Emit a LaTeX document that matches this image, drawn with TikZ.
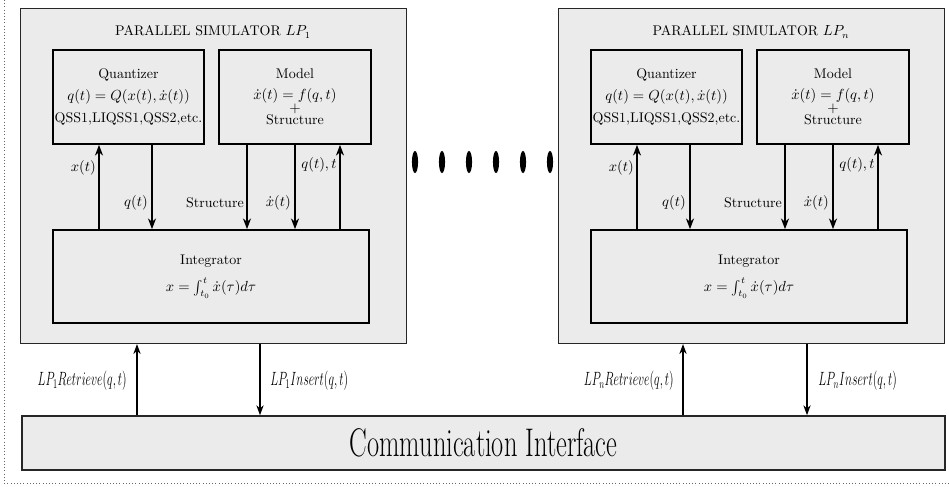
\documentclass[tikz,border=0pt]{standalone}
\usepackage{amsmath}
\usepackage{amssymb}
\usetikzlibrary{arrows.meta}

\tikzset{
  simbox/.style={draw=black!85, fill=black!8, line width=0.8pt, inner sep=0pt},
  blk/.style={draw, line width=1.3pt, fill=black!8, inner sep=0pt, align=center},
  flow/.style={-{Stealth[length=8pt,width=6pt,inset=2.5pt]}, line width=1.2pt},
  io/.style={-{Stealth[length=7.5pt,width=5.5pt,inset=2.5pt]}, line width=0.9pt},
  lbl/.style={inner sep=0pt}
}
\newcommand{\narrowtxt}[1]{\scalebox{0.66}[1]{#1}}
\newcommand{\narrowlbl}[1]{\scalebox{0.62}[1]{#1}}

\begin{document}
\begin{tikzpicture}[x=0.75pt,y=-0.75pt,font=\fontsize{10.5}{12.6}\selectfont]

\useasboundingbox (0,0) rectangle (949,486);
\draw[dotted, black!60] (4,0) -- (4,483) -- (949,483);

%% first simulator
\node (lp1) [simbox, anchor=north west, minimum width=289.5pt, minimum height=251.25pt] at (20,8) {};
\node (t1) at (213,32) {PARALLEL SIMULATOR $LP_1$};

\node (q1) [blk, minimum width=113.25pt, minimum height=70.5pt] at (128.5,97)
  {Quantizer\\[3.9pt] $q(t)=Q(x(t),\dot{x}(t))$\\[3.9pt] QSS1,LIQSS1,QSS2,etc.};
\node (m1) [blk, minimum width=114pt, minimum height=70.5pt] at (295,97)
  {Model\\[3.1pt] $\dot{x}(t)=f(q,t)$\\[-2.9pt] $+$\\[-3.6pt] Structure};
\node (int1) [blk, minimum width=237pt, minimum height=69.75pt] at (211,276.5)
  {Integrator\\[8pt] $x=\int_{t_0}^{t}\dot{x}(\tau)d\tau$};

\coordinate (xa1) at (99,0);
\coordinate (xb1) at (152,0);
\coordinate (xc1) at (247,0);
\coordinate (xd1) at (295,0);
\coordinate (xe1) at (340,0);

\draw[flow] (int1.north -| xa1) -- (q1.south -| xa1);
\draw[flow] (q1.south -| xb1) -- (int1.north -| xb1);
\draw[flow] (m1.south -| xc1) -- (int1.north -| xc1);
\draw[flow] (m1.south -| xd1) -- (int1.north -| xd1);
\draw[flow] (int1.north -| xe1) -- (m1.south -| xe1);

\node (lx1) [lbl, anchor=east] at (96,168) {$x(t)$};
\node (lqt1) [lbl, anchor=east] at (337,165) {$q(t),t$};
\node (lq1) [lbl, anchor=east] at (148,203) {$q(t)$};
\node (ls1) [lbl, anchor=east] at (244,203) {Structure};
\node (ld1) [lbl, anchor=east] at (291,203) {$\dot{x}(t)$};

%% the dots
\foreach \x in {415,442,469,496,523,550}
  \fill (\x,162) ellipse (2.3pt and 8.3pt);

%% last simulator
\begin{scope}[shift={(538,0)}]
\node (lpn) [simbox, anchor=north west, minimum width=289.5pt, minimum height=251.25pt] at (20,8) {};
\node (tn) at (213,32) {PARALLEL SIMULATOR $LP_n$};

\node (qn) [blk, minimum width=113.25pt, minimum height=70.5pt] at (128.5,97)
  {Quantizer\\[3.9pt] $q(t)=Q(x(t),\dot{x}(t))$\\[3.9pt] QSS1,LIQSS1,QSS2,etc.};
\node (mn) [blk, minimum width=114pt, minimum height=70.5pt] at (295,97)
  {Model\\[3.1pt] $\dot{x}(t)=f(q,t)$\\[-2.9pt] $+$\\[-3.6pt] Structure};
\node (intn) [blk, minimum width=237pt, minimum height=69.75pt] at (211,276.5)
  {Integrator\\[8pt] $x=\int_{t_0}^{t}\dot{x}(\tau)d\tau$};

\coordinate (xan) at (99,0);
\coordinate (xbn) at (152,0);
\coordinate (xcn) at (247,0);
\coordinate (xdn) at (295,0);
\coordinate (xen) at (340,0);

\draw[flow] (intn.north -| xan) -- (qn.south -| xan);
\draw[flow] (qn.south -| xbn) -- (intn.north -| xbn);
\draw[flow] (mn.south -| xcn) -- (intn.north -| xcn);
\draw[flow] (mn.south -| xdn) -- (intn.north -| xdn);
\draw[flow] (intn.north -| xen) -- (mn.south -| xen);

\node (lxn) [lbl, anchor=east] at (96,168) {$x(t)$};
\node (lqtn) [lbl, anchor=east] at (337,165) {$q(t),t$};
\node (lqn) [lbl, anchor=east] at (148,203) {$q(t)$};
\node (lsn) [lbl, anchor=east] at (244,203) {Structure};
\node (ldn) [lbl, anchor=east] at (291,203) {$\dot{x}(t)$};
\end{scope}

%% communication
\node (comm) [simbox, line width=1.2pt, minimum width=692.25pt, minimum height=40.5pt] at (483.5,443)
  {\narrowtxt{\fontsize{30}{30}\selectfont Communication Interface}};

\coordinate (r1) at (137,0);
\coordinate (i1) at (260,0);
\coordinate (rn) at (683,0);
\coordinate (in) at (807,0);

\draw[io] (comm.north -| r1) -- (lp1.south -| r1);
\draw[io] (lp1.south -| i1) -- (comm.north -| i1);
\draw[io] (comm.north -| rn) -- (lpn.south -| rn);
\draw[io] (lpn.south -| in) -- (comm.north -| in);

\node (lr1) [lbl, anchor=east] at (127,381) {\narrowlbl{\Large $LP_1Retrieve(q,t)$}};
\node (li1) [lbl, anchor=west] at (270,381) {\narrowlbl{\Large $LP_1Insert(q,t)$}};
\node (lrn) [lbl, anchor=east] at (674,381) {\narrowlbl{\Large $LP_nRetrieve(q,t)$}};
\node (lin) [lbl, anchor=west] at (818,381) {\narrowlbl{\Large $LP_nInsert(q,t)$}};

\end{tikzpicture}
\end{document}
